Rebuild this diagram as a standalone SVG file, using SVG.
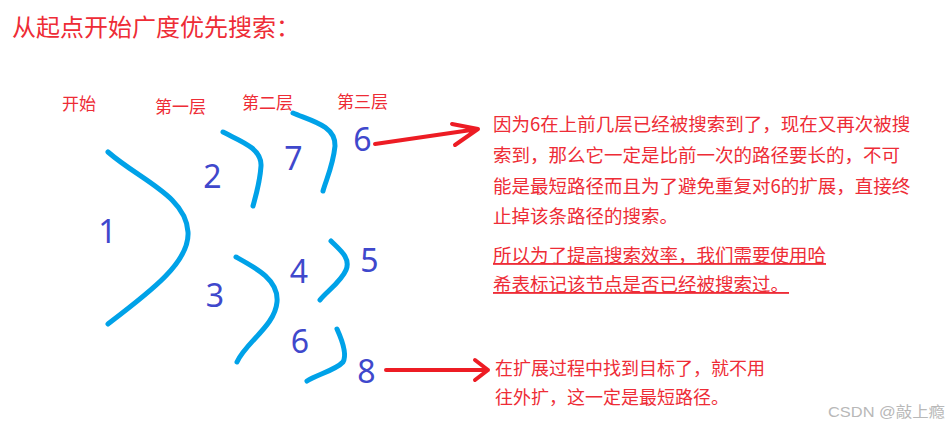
<svg xmlns="http://www.w3.org/2000/svg" width="949" height="436" viewBox="0 0 949 436">
<style>
.bg{fill:#ffffff}
.cn{font-family:"Noto Sans CJK SC","Noto Sans",sans-serif;fill:#ee2c36}
.title{font-size:24px}
.layer{font-size:17px}
.para{font-size:18.5px}
.para3{font-size:18px}
.ul{text-decoration:underline}
.num{font-family:"Noto Sans","Open Sans",sans-serif;font-size:32px;fill:#3f48cc;text-anchor:middle}
.br{fill:none;stroke:#00a2e8;stroke-width:5;stroke-linecap:round;stroke-linejoin:round}
.ar{fill:none;stroke:#ed1c24;stroke-width:4;stroke-linecap:round;stroke-linejoin:round}
.wm{font-family:"Liberation Sans","Noto Sans CJK SC",sans-serif;font-size:15px;fill:#b8b8b8}
</style>
<rect class="bg" x="0" y="0" width="949" height="436"/>
<text class="cn title" x="12" y="36">从起点开始广度优先搜索：</text>
<g id="labels">
<text class="cn layer" x="62" y="110">开始</text>
<text class="cn layer" x="155" y="113">第一层</text>
<text class="cn layer" x="242" y="109">第二层</text>
<text class="cn layer" x="337" y="108">第三层</text>
</g>
<g id="connectors">
<path class="br" d="M108,152 C140,180 186,196 188,232 C190,262 150,292 108,324"/>
<path class="br" d="M223,132 C240,141 262,148 261,166 C260,182 256,195 253,206"/>
<path class="br" d="M293,113 C312,121 336,126 335,146 C333,166 326,180 323,191"/>
<path class="br" d="M236,257 C256,268 279,280 277,302 C275,326 246,342 237,362"/>
<path class="br" d="M331,241 C340,250 351,258 346,270 C341,282 326,292 320,300"/>
<path class="br" d="M337,329 C342,340 347,355 343,362 C336,370 316,375 307,381"/>
<path class="ar" d="M375,144 L478,129 M452,124 L478,129 L455,145"/>
<path class="ar" d="M386,370 L488,370 M475,360 L488,370 L475,380"/>
</g>
<g id="n1"><text class="num" x="107.5" y="243">1</text></g>
<g id="n2"><text class="num" x="212.5" y="188">2</text></g>
<g id="n3"><text class="num" x="215" y="307">3</text></g>
<g id="n7"><text class="num" x="293.5" y="170">7</text></g>
<g id="n4"><text class="num" x="299" y="283">4</text></g>
<g id="n6b"><text class="num" x="300" y="353">6</text></g>
<g id="n6a"><text class="num" x="362.5" y="151">6</text></g>
<g id="n5"><text class="num" x="369.5" y="272">5</text></g>
<g id="n8"><text class="num" x="366.5" y="383">8</text></g>
<g id="note1">
<text class="cn para" x="493" y="131">因为6在上前几层已经被搜索到了，现在又再次被搜</text>
<text class="cn para" x="493" y="162">索到，那么它一定是比前一次的路径要长的，不可</text>
<text class="cn para" x="493" y="193">能是最短路径而且为了避免重复对6的扩展，直接终</text>
<text class="cn para" x="493" y="223">止掉该条路径的搜索。</text>
</g>
<g id="note2">
<text class="cn para ul" x="493" y="262">所以为了提高搜索效率，我们需要使用哈</text>
<text class="cn para ul" x="493" y="291">希表标记该节点是否已经被搜索过。</text>
</g>
<g id="note3">
<text class="cn para3" x="495" y="375">在扩展过程中找到目标了，就不用</text>
<text class="cn para3" x="495" y="404">往外扩，这一定是最短路径。</text>
</g>
<text class="wm" x="828" y="417" textLength="117" lengthAdjust="spacingAndGlyphs">CSDN @敲上瘾</text>
</svg>
